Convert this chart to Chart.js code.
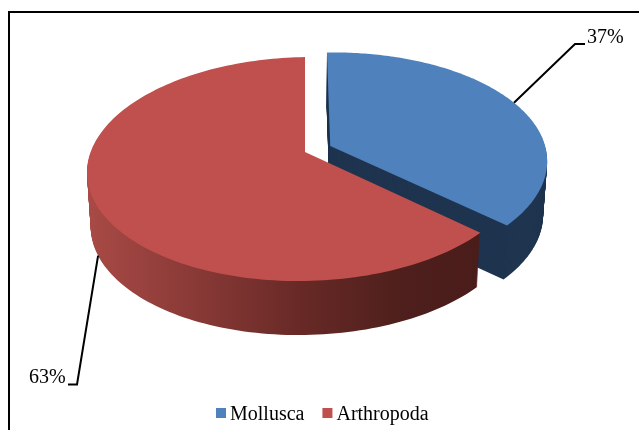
<!DOCTYPE html>
<html>
<head>
<meta charset="utf-8">
<style>
  html, body { margin: 0; padding: 0; background: #fff; }
  #wrap { width: 639px; height: 430px; position: relative; }
</style>
<script src="https://cdn.jsdelivr.net/npm/chart.js@4/dist/chart.umd.min.js"></script>
</head>
<body>
<div id="wrap"><canvas id="pie" width="639" height="430"></canvas></div>
<script>
const categories = ["Mollusca", "Arthropoda"];
const shares = [37, 63];
const topColors = ["#4F81BD", "#C0504D"];
const sideColors = ["#1F344F", "#1F344F"];

// Perspective view of the pie disc: apex position, radii, tilt and slight roll.
const view = { cx: 305, cy: 152, rx: 215.5, ry: 109.4, tilt: 0.152, roll: 0.016, depth: 54, shrink: 0.017 };
const serif = '"Liberation Serif", "Times New Roman", serif';

function project(u, v, t) {
  const w = 1 - view.tilt * v;
  const x = view.cx + view.rx * u / w;
  const y = view.cy + view.ry * v / w - (x - view.cx) * view.roll;
  return [view.cx + (x - view.cx) * (1 - view.shrink * t), y + view.depth * t];
}

// Unit-disc offset of an exploded slice, taken from the arc element.
function sliceShift(el) {
  const mid = (el.startAngle + el.endAngle) / 2;
  const off = (el.options.offset || 0) / el.outerRadius;
  return [off * Math.cos(mid), off * Math.sin(mid)];
}

function tracePlane(ctx, el, t) {
  const [du, dv] = sliceShift(el);
  const apex = project(du, dv, t);
  ctx.beginPath();
  ctx.moveTo(apex[0], apex[1]);
  const steps = 160;
  for (let i = 0; i <= steps; i++) {
    const a = el.startAngle + (el.endAngle - el.startAngle) * i / steps;
    const p = project(du + Math.cos(a), dv + Math.sin(a), t);
    ctx.lineTo(p[0], p[1]);
  }
  ctx.closePath();
}

function drawSlice(ctx, el, index) {
  let side = sideColors[index];
  if (index === 1) {
    side = ctx.createLinearGradient(87, 0, 480, 0);
    side.addColorStop(0, "#A94A46");
    side.addColorStop(0.3, "#863835");
    side.addColorStop(0.55, "#672926");
    side.addColorStop(0.8, "#4E1F1C");
    side.addColorStop(1, "#4A1C1A");
  }
  ctx.fillStyle = side;
  for (let d = view.depth; d > 0; d--) {
    tracePlane(ctx, el, d / view.depth);
    ctx.fill();
  }
  ctx.fillStyle = topColors[index];
  tracePlane(ctx, el, 0);
  ctx.fill();
}

function leader(ctx, points) {
  ctx.beginPath();
  points.forEach((p, i) => i ? ctx.lineTo(p[0], p[1]) : ctx.moveTo(p[0], p[1]));
  ctx.strokeStyle = "#000";
  ctx.lineWidth = 2;
  ctx.stroke();
}

const tiltedPie = {
  id: "tiltedPie",
  beforeDraw(chart) {
    const ctx = chart.ctx;
    ctx.save();
    ctx.fillStyle = "#000";
    ctx.fillRect(8, 11, 631, 2);
    ctx.fillRect(8, 11, 2, 419);
    ctx.restore();
  },
  beforeDatasetsDraw(chart) {
    const ctx = chart.ctx;
    const arcs = chart.getDatasetMeta(0).data;
    ctx.save();
    arcs.forEach((el, i) => drawSlice(ctx, el, i));

    // Leader lines start on the rim at each slice's middle angle.
    const rimAt = (el, t) => {
      const mid = (el.startAngle + el.endAngle) / 2;
      const [du, dv] = sliceShift(el);
      return project(du + Math.cos(mid), dv + Math.sin(mid), t);
    };
    leader(ctx, [rimAt(arcs[0], 0), [575, 44], [585, 44]]);
    leader(ctx, [rimAt(arcs[1], 1), [77, 384.5], [68, 384.5]]);

    ctx.fillStyle = "#000";
    ctx.font = "20px " + serif;
    ctx.textBaseline = "alphabetic";
    ctx.textAlign = "left";
    ctx.fillText(shares[0] + "%", 587, 43);
    ctx.fillText(shares[1] + "%", 29, 383);

    // Legend row along the bottom of the frame.
    let x = 216;
    categories.forEach((name, i) => {
      ctx.fillStyle = topColors[i];
      ctx.fillRect(x, 408, 10, 10);
      ctx.fillStyle = "#000";
      ctx.fillText(name, x + 14, 420);
      x += 14 + ctx.measureText(name).width + 18;
    });
    ctx.restore();
    return false;
  }
};

new Chart(document.getElementById("pie"), {
  type: "pie",
  data: {
    labels: categories,
    datasets: [{
      data: shares,
      backgroundColor: topColors,
      borderWidth: 0,
      offset: [26, 0]
    }]
  },
  options: {
    responsive: false,
    animation: false,
    events: [],
    plugins: { legend: { display: false }, tooltip: { enabled: false } }
  },
  plugins: [tiltedPie]
});
</script>
</body>
</html>
